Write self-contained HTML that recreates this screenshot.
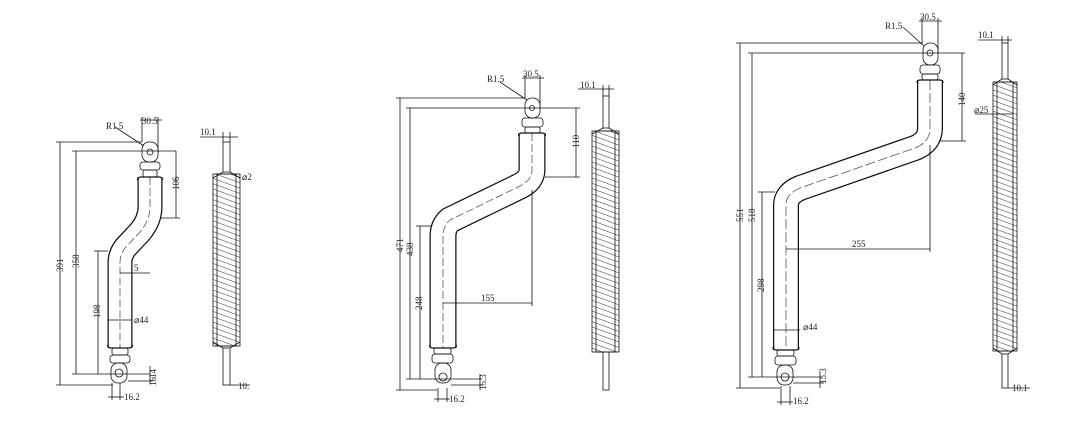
<!DOCTYPE html>
<html><head><meta charset="utf-8"><style>
html,body{margin:0;padding:0;background:#fff}
svg{display:block}
text{font-family:"Liberation Serif",serif;font-size:9px;fill:#222}
</style></head><body>
<svg width="1068" height="435" viewBox="0 0 1068 435" xmlns="http://www.w3.org/2000/svg">
<defs>
<pattern id="h" width="5" height="5" patternUnits="userSpaceOnUse" patternTransform="rotate(-70)">
<line x1="0" y1="0" x2="0" y2="5" stroke="#333" stroke-width="1"/>
</pattern>
</defs>
<g fill="none" stroke="#111" stroke-width="0.8">
<!-- ===== Drawing 1 ===== -->
<path d="M150,177 L150,207 Q150,220 140,232 L125,248 Q120,255 120,262 L120,348" stroke="#111" stroke-width="25" stroke-linecap="butt"/>
<path d="M150,176 L150,207 Q150,220 140,232 L125,248 Q120,255 120,262 L120,349" stroke="#fff" stroke-width="22.5" stroke-linecap="butt"/>
<path d="M150,177 L150,207 Q150,220 140,232 L125,248 Q120,255 120,262 L120,348" stroke="#555" stroke-dasharray="8,3"/>
<path d="M137.5,180 Q137.5,177 141,177 L159,177 Q162.5,177 162.5,180" stroke-width="1.2"/>
<path d="M107.5,345 Q107.5,348 111,348 L129,348 Q132.5,348 132.5,345" stroke-width="1.2"/>
<line x1="108" y1="320" x2="132" y2="320"/>
<rect x="142" y="142" width="16" height="20" rx="7"/>
<circle cx="150" cy="152" r="3"/>
<rect x="140" y="162" width="20" height="8" rx="3"/>
<rect x="143" y="170" width="14" height="7" rx="2"/>
<rect x="112" y="348" width="16" height="7" rx="2"/>
<rect x="110" y="355" width="20" height="8" rx="3"/>
<rect x="111" y="363" width="16" height="20" rx="7"/>
<circle cx="119" cy="373" r="4"/>
<!-- dims 1 -->
<line x1="60" y1="142" x2="60" y2="385"/><line x1="56" y1="142" x2="142" y2="142"/><line x1="56" y1="385" x2="113" y2="385"/>
<line x1="76" y1="151" x2="76" y2="374"/><line x1="72" y1="151" x2="176" y2="151"/><line x1="72" y1="374" x2="150" y2="374"/>
<line x1="98" y1="251" x2="98" y2="374"/><line x1="94" y1="251" x2="108" y2="251"/>
<line x1="176" y1="151" x2="176" y2="218"/><line x1="160" y1="218" x2="180" y2="218"/>
<line x1="120" y1="273" x2="150" y2="273"/>
<line x1="142" y1="117" x2="142" y2="142"/><line x1="158" y1="117" x2="158" y2="152"/><line x1="140" y1="120" x2="162" y2="120"/>
<line x1="115" y1="127" x2="144" y2="146"/>
<line x1="112" y1="383" x2="112" y2="400"/><line x1="120" y1="383" x2="120" y2="400"/><line x1="108" y1="397" x2="124" y2="397"/>
<line x1="150" y1="366" x2="150" y2="384"/><line x1="128" y1="381" x2="152" y2="381"/>
<!-- side 1 -->
<rect x="223" y="142" width="7" height="30"/>
<rect x="213" y="174" width="27" height="172" fill="url(#h)"/>
<rect x="217" y="174" width="19" height="172"/>
<path d="M223,172 L213,178 M230,172 L240,178 M223,348 L213,342 M230,348 L240,342"/>
<rect x="223" y="348" width="7" height="37"/>
<line x1="200" y1="137" x2="238" y2="137"/><line x1="223" y1="132" x2="223" y2="142"/><line x1="230" y1="132" x2="230" y2="142"/>
<line x1="230" y1="385" x2="250" y2="385"/>

<!-- ===== Drawing 2 ===== -->
<path d="M532,133 L532,170 Q532,180 520,186 L450,220 Q443,226 443,236 L443,348" stroke="#111" stroke-width="27"/>
<path d="M532,132 L532,170 Q532,180 520,186 L450,220 Q443,226 443,236 L443,349" stroke="#fff" stroke-width="24.5"/>
<path d="M532,133 L532,170 Q532,180 520,186 L450,220 Q443,226 443,236 L443,348" stroke="#555" stroke-dasharray="8,3"/>
<path d="M518.5,136 Q518.5,133 522,133 L542,133 Q545.5,133 545.5,136" stroke-width="1.2"/>
<path d="M429.5,345 Q429.5,348 433,348 L453,348 Q456.5,348 456.5,345" stroke-width="1.2"/>
<rect x="525" y="98" width="15" height="20" rx="7"/>
<circle cx="532" cy="108" r="2.5"/>
<rect x="522" y="118" width="21" height="9" rx="3"/>
<rect x="525" y="127" width="15" height="6" rx="2"/>
<rect x="434" y="348" width="17" height="6" rx="2"/>
<rect x="432" y="354" width="21" height="9" rx="3"/>
<rect x="435" y="363" width="16" height="20" rx="7"/>
<circle cx="443" cy="377" r="4"/>
<!-- dims 2 -->
<line x1="400" y1="98" x2="400" y2="390"/><line x1="396" y1="98" x2="525" y2="98"/><line x1="396" y1="390" x2="437" y2="390"/>
<line x1="410" y1="108" x2="410" y2="379"/><line x1="406" y1="108" x2="580" y2="108"/><line x1="406" y1="379" x2="482" y2="379"/>
<line x1="420" y1="226" x2="420" y2="379"/><line x1="416" y1="226" x2="432" y2="226"/>
<line x1="576" y1="108" x2="576" y2="177"/><line x1="545" y1="177" x2="580" y2="177"/>
<line x1="443" y1="303" x2="532" y2="303"/><line x1="532" y1="190" x2="532" y2="306"/>
<line x1="525" y1="75" x2="525" y2="98"/><line x1="540" y1="75" x2="540" y2="108"/><line x1="522" y1="78" x2="544" y2="78"/>
<line x1="500" y1="82" x2="527" y2="100"/>
<line x1="438" y1="388" x2="438" y2="402"/><line x1="447" y1="388" x2="447" y2="402"/><line x1="434" y1="399" x2="450" y2="399"/>
<line x1="480" y1="374" x2="480" y2="390"/><line x1="451" y1="385" x2="484" y2="385"/>
<!-- side 2 -->
<rect x="603" y="96" width="6" height="32"/>
<rect x="592" y="131" width="27" height="221" fill="url(#h)"/>
<rect x="596" y="131" width="19" height="221"/>
<path d="M603,128 L592,134 M609,128 L619,134"/>
<rect x="603" y="352" width="6" height="38"/>
<line x1="578" y1="89" x2="614" y2="89"/><line x1="603" y1="85" x2="603" y2="96"/><line x1="609" y1="85" x2="609" y2="96"/>

<!-- ===== Drawing 3 ===== -->
<path d="M930,80 L930,128 Q930,142 915,148 L800,188 Q786,194 786,205 L786,350" stroke="#111" stroke-width="26"/>
<path d="M930,79 L930,128 Q930,142 915,148 L800,188 Q786,194 786,205 L786,351" stroke="#fff" stroke-width="23.5"/>
<path d="M930,80 L930,128 Q930,142 915,148 L800,188 Q786,194 786,205 L786,350" stroke="#555" stroke-dasharray="10,3"/>
<path d="M917,83 Q917,80 920,80 L940,80 Q943,80 943,83" stroke-width="1.2"/>
<path d="M773,347 Q773,350 776,350 L796,350 Q799,350 799,347" stroke-width="1.2"/>
<line x1="773" y1="330" x2="800" y2="330"/>
<rect x="923" y="43" width="15" height="22" rx="7"/>
<circle cx="930" cy="53" r="3"/>
<rect x="920" y="65" width="20" height="9" rx="3"/>
<rect x="922" y="74" width="16" height="6" rx="2"/>
<rect x="777" y="350" width="17" height="6" rx="2"/>
<rect x="775" y="356" width="21" height="9" rx="3"/>
<rect x="777" y="365" width="16" height="20" rx="7"/>
<circle cx="785" cy="377" r="4"/>
<!-- dims 3 -->
<line x1="740" y1="43" x2="740" y2="388"/><line x1="736" y1="43" x2="923" y2="43"/><line x1="736" y1="388" x2="780" y2="388"/>
<line x1="752" y1="53" x2="752" y2="377"/><line x1="748" y1="53" x2="965" y2="53"/><line x1="748" y1="377" x2="822" y2="377"/>
<line x1="762" y1="192" x2="762" y2="377"/><line x1="758" y1="192" x2="775" y2="192"/>
<line x1="962" y1="53" x2="962" y2="141"/><line x1="940" y1="141" x2="966" y2="141"/>
<line x1="786" y1="249" x2="930" y2="249"/><line x1="930" y1="145" x2="930" y2="252"/>
<line x1="922" y1="18" x2="922" y2="43"/><line x1="938" y1="18" x2="938" y2="53"/><line x1="919" y1="21" x2="942" y2="21"/>
<line x1="903" y1="27" x2="924" y2="46"/>
<line x1="781" y1="386" x2="781" y2="405"/><line x1="790" y1="386" x2="790" y2="405"/><line x1="777" y1="402" x2="793" y2="402"/>
<line x1="820" y1="372" x2="820" y2="388"/><line x1="793" y1="383" x2="824" y2="383"/>
<!-- side 3 -->
<rect x="1002" y="43" width="6" height="36"/>
<rect x="993" y="82" width="24" height="269" fill="url(#h)"/>
<rect x="997" y="82" width="16" height="269"/>
<path d="M1002,79 L993,85 M1008,79 L1017,85 M1002,354 L993,348 M1008,354 L1017,348"/>
<rect x="1002" y="354" width="6" height="34"/>
<line x1="978" y1="40" x2="1012" y2="40"/><line x1="1002" y1="36" x2="1002" y2="43"/><line x1="1008" y1="36" x2="1008" y2="43"/>
<line x1="975" y1="114" x2="1013" y2="114"/>
<line x1="1008" y1="388" x2="1030" y2="388"/>
</g>
<!-- labels -->
<text x="106" y="129">R1.5</text><text x="142" y="124">30.5</text>
<text transform="translate(63,272) rotate(-90)">391</text>
<text transform="translate(79,268) rotate(-90)">358</text>
<text transform="translate(100,318) rotate(-90)">198</text>
<text transform="translate(179,190) rotate(-90)">106</text>
<text x="134" y="271">5</text>
<text x="134" y="323" font-size="8">⌀44</text>
<text x="124" y="400">16.2</text>
<text transform="translate(156,378) rotate(-90)" font-size="8">14</text>
<text transform="translate(156,386) rotate(-90)" font-size="8">16</text>
<text x="200" y="135">10.1</text><text x="242" y="180">⌀2</text><text x="238" y="389">10.</text>

<text x="487" y="82">R1.5</text><text x="523" y="77">30.5</text>
<text transform="translate(403,252) rotate(-90)">471</text>
<text transform="translate(413,256) rotate(-90)">438</text>
<text transform="translate(422,310) rotate(-90)">248</text>
<text transform="translate(579,148) rotate(-90)">110</text>
<text x="481" y="301">155</text>
<text x="449" y="402">16.2</text>
<text transform="translate(486,390) rotate(-90)" font-size="8">15.3</text>
<text x="580" y="88">10.1</text>

<text x="885" y="29">R1.5</text><text x="920" y="20">30.5</text>
<text transform="translate(743,222) rotate(-90)">551</text>
<text transform="translate(755,222) rotate(-90)">518</text>
<text transform="translate(764,292) rotate(-90)">298</text>
<text transform="translate(965,106) rotate(-90)">140</text>
<text x="852" y="247">255</text>
<text x="803" y="330" font-size="8">⌀44</text>
<text x="793" y="404">16.2</text>
<text transform="translate(826,384) rotate(-90)" font-size="8">15.3</text>
<text x="978" y="38">10.1</text><text x="974" y="113" font-size="8">⌀25</text><text x="1012" y="391">10.1</text>
</svg>
</body></html>
